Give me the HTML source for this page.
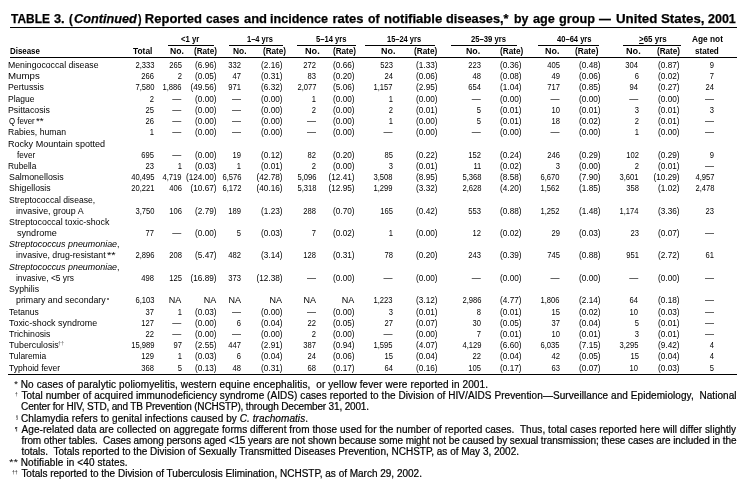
<!DOCTYPE html>
<html><head><meta charset="utf-8"><title>Table 3</title><style>
html,body{margin:0;padding:0;background:#fff;}
body{will-change:transform;width:756px;height:494px;position:relative;overflow:hidden;font-family:"Liberation Sans",sans-serif;color:#000;}
span{position:absolute;line-height:1;white-space:pre;}
.b{font-weight:bold;}
.it{font-style:italic;}
.ln{position:absolute;background:#000;}
i{font-style:italic;}
u{text-decoration:underline;}
</style></head><body>
<span class="b" style="top:12.10px;font-size:13px;left:10.57px;transform:scaleX(0.9181);transform-origin:0 0;-webkit-text-stroke:0.25px #000;">TABLE</span>
<span class="b" style="top:12.10px;font-size:13px;left:54.31px;transform:scaleX(0.9849);transform-origin:0 0;-webkit-text-stroke:0.25px #000;">3.</span>
<span class="b" style="top:12.10px;font-size:13px;left:68.93px;transform:scaleX(0.8729);transform-origin:0 0;-webkit-text-stroke:0.25px #000;">(</span>
<span class="b it" style="top:12.10px;font-size:13px;left:74.08px;transform:scaleX(0.9756);transform-origin:0 0;-webkit-text-stroke:0.25px #000;">Continued</span>
<span class="b" style="top:12.10px;font-size:13px;left:137.59px;transform:scaleX(0.8183);transform-origin:0 0;-webkit-text-stroke:0.25px #000;">)</span>
<span class="b" style="top:12.10px;font-size:13px;left:144.83px;-webkit-text-stroke:0.25px #000;">Reported</span>
<span class="b" style="top:12.10px;font-size:13px;left:206.03px;transform:scaleX(0.9256);transform-origin:0 0;-webkit-text-stroke:0.25px #000;">cases</span>
<span class="b" style="top:12.10px;font-size:13px;left:243.62px;transform:scaleX(0.9964);transform-origin:0 0;-webkit-text-stroke:0.25px #000;">and</span>
<span class="b" style="top:12.10px;font-size:13px;left:270.12px;transform:scaleX(0.9673);transform-origin:0 0;-webkit-text-stroke:0.25px #000;">incidence</span>
<span class="b" style="top:12.10px;font-size:13px;left:332.44px;-webkit-text-stroke:0.25px #000;">rates</span>
<span class="b" style="top:12.10px;font-size:13px;left:367.72px;transform:scaleX(0.9414);transform-origin:0 0;-webkit-text-stroke:0.25px #000;">of</span>
<span class="b" style="top:12.10px;font-size:13px;left:383.53px;transform:scaleX(1.0093);transform-origin:0 0;-webkit-text-stroke:0.25px #000;">notifiable</span>
<span class="b" style="top:12.10px;font-size:13px;left:446.28px;transform:scaleX(0.9833);transform-origin:0 0;-webkit-text-stroke:0.25px #000;">diseases,*</span>
<span class="b" style="top:12.10px;font-size:13px;left:513.59px;transform:scaleX(0.9475);transform-origin:0 0;-webkit-text-stroke:0.25px #000;">by</span>
<span class="b" style="top:12.10px;font-size:13px;left:532.63px;transform:scaleX(0.9731);transform-origin:0 0;-webkit-text-stroke:0.25px #000;">age</span>
<span class="b" style="top:12.10px;font-size:13px;left:558.68px;transform:scaleX(0.9759);transform-origin:0 0;-webkit-text-stroke:0.25px #000;">group</span>
<span class="b" style="top:12.10px;font-size:13px;left:598.90px;transform:scaleX(0.9154);transform-origin:0 0;-webkit-text-stroke:0.25px #000;">—</span>
<span class="b" style="top:12.10px;font-size:13px;left:615.80px;transform:scaleX(1.0231);transform-origin:0 0;-webkit-text-stroke:0.25px #000;">United</span>
<span class="b" style="top:12.10px;font-size:13px;left:661.01px;transform:scaleX(1.0219);transform-origin:0 0;-webkit-text-stroke:0.25px #000;">States,</span>
<span class="b" style="top:12.10px;font-size:13px;left:708.36px;transform:scaleX(0.9611);transform-origin:0 0;-webkit-text-stroke:0.25px #000;">2001</span>
<div class="ln" style="left:10px;top:27px;width:727px;height:1px"></div>
<span class="b" style="top:34.60px;font-size:9px;left:180.78px;transform:scaleX(0.8577);transform-origin:0 0;">&lt;1 yr</span>
<div class="ln" style="left:168px;top:45px;width:46px;height:1px"></div>
<span class="b" style="top:34.60px;font-size:9px;left:246.53px;transform:scaleX(0.8340);transform-origin:0 0;">1–4 yrs</span>
<div class="ln" style="left:229px;top:45px;width:54px;height:1px"></div>
<span class="b" style="top:34.60px;font-size:9px;left:316.46px;transform:scaleX(0.8477);transform-origin:0 0;">5–14 yrs</span>
<div class="ln" style="left:297px;top:45px;width:59px;height:1px"></div>
<span class="b" style="top:34.60px;font-size:9px;left:387.33px;transform:scaleX(0.8303);transform-origin:0 0;">15–24 yrs</span>
<div class="ln" style="left:365px;top:45px;width:70px;height:1px"></div>
<span class="b" style="top:34.60px;font-size:9px;left:471.43px;transform:scaleX(0.8549);transform-origin:0 0;">25–39 yrs</span>
<div class="ln" style="left:451px;top:45px;width:66px;height:1px"></div>
<span class="b" style="top:34.60px;font-size:9px;left:556.89px;transform:scaleX(0.8412);transform-origin:0 0;">40–64 yrs</span>
<div class="ln" style="left:538px;top:45px;width:61px;height:1px"></div>
<span class="b" style="top:34.60px;font-size:9px;left:639.47px;transform:scaleX(0.8844);transform-origin:0 0;"><u>&gt;</u>65 yrs</span>
<div class="ln" style="left:623px;top:45px;width:58px;height:1px"></div>
<span class="b" style="top:34.60px;font-size:9px;left:692.29px;transform:scaleX(0.9227);transform-origin:0 0;">Age not</span>
<span class="b" style="top:46.60px;font-size:9px;left:694.62px;transform:scaleX(0.8983);transform-origin:0 0;">stated</span>
<span class="b" style="top:46.60px;font-size:9px;left:10.17px;transform:scaleX(0.8786);transform-origin:0 0;">Disease</span>
<span class="b" style="top:46.60px;font-size:9px;left:133.41px;transform:scaleX(0.9305);transform-origin:0 0;">Total</span>
<span class="b" style="top:46.60px;font-size:9px;left:170.22px;transform:scaleX(0.9567);transform-origin:0 0;">No.</span>
<span class="b" style="top:46.60px;font-size:9px;left:233.24px;transform:scaleX(0.9341);transform-origin:0 0;">No.</span>
<span class="b" style="top:46.60px;font-size:9px;left:305.29px;transform:scaleX(1.0169);transform-origin:0 0;">No.</span>
<span class="b" style="top:46.60px;font-size:9px;left:380.80px;transform:scaleX(0.9944);transform-origin:0 0;">No.</span>
<span class="b" style="top:46.60px;font-size:9px;left:466.11px;transform:scaleX(0.9793);transform-origin:0 0;">No.</span>
<span class="b" style="top:46.60px;font-size:9px;left:544.80px;transform:scaleX(0.9944);transform-origin:0 0;">No.</span>
<span class="b" style="top:46.60px;font-size:9px;left:626.49px;transform:scaleX(1.0169);transform-origin:0 0;">No.</span>
<span class="b" style="top:46.60px;font-size:9px;left:194.19px;transform:scaleX(0.9022);transform-origin:0 0;">(Rate)</span>
<span class="b" style="top:46.60px;font-size:9px;left:263.29px;transform:scaleX(0.9022);transform-origin:0 0;">(Rate)</span>
<span class="b" style="top:46.60px;font-size:9px;left:332.79px;transform:scaleX(0.9022);transform-origin:0 0;">(Rate)</span>
<span class="b" style="top:46.60px;font-size:9px;left:414.39px;transform:scaleX(0.9144);transform-origin:0 0;">(Rate)</span>
<span class="b" style="top:46.60px;font-size:9px;left:499.59px;transform:scaleX(0.9144);transform-origin:0 0;">(Rate)</span>
<span class="b" style="top:46.60px;font-size:9px;left:575.29px;transform:scaleX(0.9185);transform-origin:0 0;">(Rate)</span>
<span class="b" style="top:46.60px;font-size:9px;left:657.19px;transform:scaleX(0.9022);transform-origin:0 0;">(Rate)</span>
<div class="ln" style="left:10px;top:57px;width:727px;height:1px"></div>
<span style="top:60.60px;font-size:9px;left:8.29px;transform:scaleX(0.9673);transform-origin:0 0;">Meningococcal disease</span>
<span style="top:60.60px;font-size:9px;right:601.66px;transform:scaleX(0.8450);transform-origin:100% 0;">2,333</span>
<span style="top:60.60px;font-size:9px;right:574.38px;transform:scaleX(0.8450);transform-origin:100% 0;">265</span>
<span style="top:60.60px;font-size:9px;right:539.19px;transform:scaleX(0.9130);transform-origin:100% 0;">(6.96)</span>
<span style="top:60.60px;font-size:9px;right:514.72px;transform:scaleX(0.8450);transform-origin:100% 0;">332</span>
<span style="top:60.60px;font-size:9px;right:473.59px;transform:scaleX(0.9130);transform-origin:100% 0;">(2.16)</span>
<span style="top:60.60px;font-size:9px;right:439.62px;transform:scaleX(0.8450);transform-origin:100% 0;">272</span>
<span style="top:60.60px;font-size:9px;right:401.19px;transform:scaleX(0.9130);transform-origin:100% 0;">(0.66)</span>
<span style="top:60.60px;font-size:9px;right:363.16px;transform:scaleX(0.8450);transform-origin:100% 0;">523</span>
<span style="top:60.60px;font-size:9px;right:318.99px;transform:scaleX(0.9130);transform-origin:100% 0;">(1.33)</span>
<span style="top:60.60px;font-size:9px;right:274.86px;transform:scaleX(0.8450);transform-origin:100% 0;">223</span>
<span style="top:60.60px;font-size:9px;right:234.19px;transform:scaleX(0.9130);transform-origin:100% 0;">(0.36)</span>
<span style="top:60.60px;font-size:9px;right:196.28px;transform:scaleX(0.8450);transform-origin:100% 0;">405</span>
<span style="top:60.60px;font-size:9px;right:155.69px;transform:scaleX(0.9130);transform-origin:100% 0;">(0.48)</span>
<span style="top:60.60px;font-size:9px;right:117.58px;transform:scaleX(0.8450);transform-origin:100% 0;">304</span>
<span style="top:60.60px;font-size:9px;right:76.29px;transform:scaleX(0.9130);transform-origin:100% 0;">(0.87)</span>
<span style="top:60.60px;font-size:9px;right:41.64px;transform:scaleX(0.8450);transform-origin:100% 0;">9</span>
<span style="top:71.60px;font-size:9px;left:8.21px;transform:scaleX(1.0759);transform-origin:0 0;">Mumps</span>
<span style="top:71.60px;font-size:9px;right:601.66px;transform:scaleX(0.8450);transform-origin:100% 0;">266</span>
<span style="top:71.60px;font-size:9px;right:574.32px;transform:scaleX(0.8450);transform-origin:100% 0;">2</span>
<span style="top:71.60px;font-size:9px;right:539.19px;transform:scaleX(0.9130);transform-origin:100% 0;">(0.05)</span>
<span style="top:71.60px;font-size:9px;right:514.72px;transform:scaleX(0.8450);transform-origin:100% 0;">47</span>
<span style="top:71.60px;font-size:9px;right:473.59px;transform:scaleX(0.9130);transform-origin:100% 0;">(0.31)</span>
<span style="top:71.60px;font-size:9px;right:439.66px;transform:scaleX(0.8450);transform-origin:100% 0;">83</span>
<span style="top:71.60px;font-size:9px;right:401.19px;transform:scaleX(0.9130);transform-origin:100% 0;">(0.20)</span>
<span style="top:71.60px;font-size:9px;right:363.28px;transform:scaleX(0.8450);transform-origin:100% 0;">24</span>
<span style="top:71.60px;font-size:9px;right:318.99px;transform:scaleX(0.9130);transform-origin:100% 0;">(0.06)</span>
<span style="top:71.60px;font-size:9px;right:274.87px;transform:scaleX(0.8450);transform-origin:100% 0;">48</span>
<span style="top:71.60px;font-size:9px;right:234.19px;transform:scaleX(0.9130);transform-origin:100% 0;">(0.08)</span>
<span style="top:71.60px;font-size:9px;right:196.24px;transform:scaleX(0.8450);transform-origin:100% 0;">49</span>
<span style="top:71.60px;font-size:9px;right:155.69px;transform:scaleX(0.9130);transform-origin:100% 0;">(0.06)</span>
<span style="top:71.60px;font-size:9px;right:117.46px;transform:scaleX(0.8450);transform-origin:100% 0;">6</span>
<span style="top:71.60px;font-size:9px;right:76.29px;transform:scaleX(0.9130);transform-origin:100% 0;">(0.02)</span>
<span style="top:71.60px;font-size:9px;right:41.62px;transform:scaleX(0.8450);transform-origin:100% 0;">7</span>
<span style="top:82.60px;font-size:9px;left:8.28px;transform:scaleX(0.9709);transform-origin:0 0;">Pertussis</span>
<span style="top:82.60px;font-size:9px;right:601.70px;transform:scaleX(0.8450);transform-origin:100% 0;">7,580</span>
<span style="top:82.60px;font-size:9px;right:574.36px;transform:scaleX(0.8450);transform-origin:100% 0;">1,886</span>
<span style="top:82.60px;font-size:9px;right:539.19px;transform:scaleX(0.9130);transform-origin:100% 0;">(49.56)</span>
<span style="top:82.60px;font-size:9px;right:514.72px;transform:scaleX(0.8450);transform-origin:100% 0;">971</span>
<span style="top:82.60px;font-size:9px;right:473.59px;transform:scaleX(0.9130);transform-origin:100% 0;">(6.32)</span>
<span style="top:82.60px;font-size:9px;right:439.62px;transform:scaleX(0.8450);transform-origin:100% 0;">2,077</span>
<span style="top:82.60px;font-size:9px;right:401.19px;transform:scaleX(0.9130);transform-origin:100% 0;">(5.06)</span>
<span style="top:82.60px;font-size:9px;right:363.12px;transform:scaleX(0.8450);transform-origin:100% 0;">1,157</span>
<span style="top:82.60px;font-size:9px;right:318.99px;transform:scaleX(0.9130);transform-origin:100% 0;">(2.95)</span>
<span style="top:82.60px;font-size:9px;right:274.98px;transform:scaleX(0.8450);transform-origin:100% 0;">654</span>
<span style="top:82.60px;font-size:9px;right:234.19px;transform:scaleX(0.9130);transform-origin:100% 0;">(1.04)</span>
<span style="top:82.60px;font-size:9px;right:196.22px;transform:scaleX(0.8450);transform-origin:100% 0;">717</span>
<span style="top:82.60px;font-size:9px;right:155.69px;transform:scaleX(0.9130);transform-origin:100% 0;">(0.85)</span>
<span style="top:82.60px;font-size:9px;right:117.58px;transform:scaleX(0.8450);transform-origin:100% 0;">94</span>
<span style="top:82.60px;font-size:9px;right:76.29px;transform:scaleX(0.9130);transform-origin:100% 0;">(0.27)</span>
<span style="top:82.60px;font-size:9px;right:41.78px;transform:scaleX(0.8450);transform-origin:100% 0;">24</span>
<span style="top:94.60px;font-size:9px;left:8.30px;transform:scaleX(0.9445);transform-origin:0 0;">Plague</span>
<span style="top:94.60px;font-size:9px;right:601.62px;transform:scaleX(0.8450);transform-origin:100% 0;">2</span>
<span style="top:94.60px;font-size:9px;right:574.70px;">—</span>
<span style="top:94.60px;font-size:9px;right:539.19px;transform:scaleX(0.9130);transform-origin:100% 0;">(0.00)</span>
<span style="top:94.60px;font-size:9px;right:515.10px;">—</span>
<span style="top:94.60px;font-size:9px;right:473.59px;transform:scaleX(0.9130);transform-origin:100% 0;">(0.00)</span>
<span style="top:94.60px;font-size:9px;right:439.63px;transform:scaleX(0.8450);transform-origin:100% 0;">1</span>
<span style="top:94.60px;font-size:9px;right:401.19px;transform:scaleX(0.9130);transform-origin:100% 0;">(0.00)</span>
<span style="top:94.60px;font-size:9px;right:363.13px;transform:scaleX(0.8450);transform-origin:100% 0;">1</span>
<span style="top:94.60px;font-size:9px;right:318.99px;transform:scaleX(0.9130);transform-origin:100% 0;">(0.00)</span>
<span style="top:94.60px;font-size:9px;right:275.20px;">—</span>
<span style="top:94.60px;font-size:9px;right:234.19px;transform:scaleX(0.9130);transform-origin:100% 0;">(0.00)</span>
<span style="top:94.60px;font-size:9px;right:196.60px;">—</span>
<span style="top:94.60px;font-size:9px;right:155.69px;transform:scaleX(0.9130);transform-origin:100% 0;">(0.00)</span>
<span style="top:94.60px;font-size:9px;right:117.80px;">—</span>
<span style="top:94.60px;font-size:9px;right:76.29px;transform:scaleX(0.9130);transform-origin:100% 0;">(0.00)</span>
<span style="top:94.60px;font-size:9px;right:42.00px;">—</span>
<span style="top:105.60px;font-size:9px;left:8.28px;transform:scaleX(0.9750);transform-origin:0 0;">Psittacosis</span>
<span style="top:105.60px;font-size:9px;right:601.68px;transform:scaleX(0.8450);transform-origin:100% 0;">25</span>
<span style="top:105.60px;font-size:9px;right:574.70px;">—</span>
<span style="top:105.60px;font-size:9px;right:539.19px;transform:scaleX(0.9130);transform-origin:100% 0;">(0.00)</span>
<span style="top:105.60px;font-size:9px;right:515.10px;">—</span>
<span style="top:105.60px;font-size:9px;right:473.59px;transform:scaleX(0.9130);transform-origin:100% 0;">(0.00)</span>
<span style="top:105.60px;font-size:9px;right:439.62px;transform:scaleX(0.8450);transform-origin:100% 0;">2</span>
<span style="top:105.60px;font-size:9px;right:401.19px;transform:scaleX(0.9130);transform-origin:100% 0;">(0.00)</span>
<span style="top:105.60px;font-size:9px;right:363.12px;transform:scaleX(0.8450);transform-origin:100% 0;">2</span>
<span style="top:105.60px;font-size:9px;right:318.99px;transform:scaleX(0.9130);transform-origin:100% 0;">(0.01)</span>
<span style="top:105.60px;font-size:9px;right:274.88px;transform:scaleX(0.8450);transform-origin:100% 0;">5</span>
<span style="top:105.60px;font-size:9px;right:234.19px;transform:scaleX(0.9130);transform-origin:100% 0;">(0.01)</span>
<span style="top:105.60px;font-size:9px;right:196.30px;transform:scaleX(0.8450);transform-origin:100% 0;">10</span>
<span style="top:105.60px;font-size:9px;right:155.69px;transform:scaleX(0.9130);transform-origin:100% 0;">(0.01)</span>
<span style="top:105.60px;font-size:9px;right:117.46px;transform:scaleX(0.8450);transform-origin:100% 0;">3</span>
<span style="top:105.60px;font-size:9px;right:76.29px;transform:scaleX(0.9130);transform-origin:100% 0;">(0.01)</span>
<span style="top:105.60px;font-size:9px;right:41.66px;transform:scaleX(0.8450);transform-origin:100% 0;">3</span>
<span style="top:116.60px;font-size:9px;left:8.63px;transform:scaleX(0.8706);transform-origin:0 0;">Q fever</span>
<span style="top:116.39px;font-size:9.5px;left:35.94px;transform:scaleX(1.0301);transform-origin:0 0;">**</span>
<span style="top:116.60px;font-size:9px;right:601.66px;transform:scaleX(0.8450);transform-origin:100% 0;">26</span>
<span style="top:116.60px;font-size:9px;right:574.70px;">—</span>
<span style="top:116.60px;font-size:9px;right:539.19px;transform:scaleX(0.9130);transform-origin:100% 0;">(0.00)</span>
<span style="top:116.60px;font-size:9px;right:515.10px;">—</span>
<span style="top:116.60px;font-size:9px;right:473.59px;transform:scaleX(0.9130);transform-origin:100% 0;">(0.00)</span>
<span style="top:116.60px;font-size:9px;right:440.00px;">—</span>
<span style="top:116.60px;font-size:9px;right:401.19px;transform:scaleX(0.9130);transform-origin:100% 0;">(0.00)</span>
<span style="top:116.60px;font-size:9px;right:363.13px;transform:scaleX(0.8450);transform-origin:100% 0;">1</span>
<span style="top:116.60px;font-size:9px;right:318.99px;transform:scaleX(0.9130);transform-origin:100% 0;">(0.00)</span>
<span style="top:116.60px;font-size:9px;right:274.88px;transform:scaleX(0.8450);transform-origin:100% 0;">5</span>
<span style="top:116.60px;font-size:9px;right:234.19px;transform:scaleX(0.9130);transform-origin:100% 0;">(0.01)</span>
<span style="top:116.60px;font-size:9px;right:196.27px;transform:scaleX(0.8450);transform-origin:100% 0;">18</span>
<span style="top:116.60px;font-size:9px;right:155.69px;transform:scaleX(0.9130);transform-origin:100% 0;">(0.02)</span>
<span style="top:116.60px;font-size:9px;right:117.42px;transform:scaleX(0.8450);transform-origin:100% 0;">2</span>
<span style="top:116.60px;font-size:9px;right:76.29px;transform:scaleX(0.9130);transform-origin:100% 0;">(0.01)</span>
<span style="top:116.60px;font-size:9px;right:42.00px;">—</span>
<span style="top:127.60px;font-size:9px;left:8.29px;transform:scaleX(0.9593);transform-origin:0 0;">Rabies, human</span>
<span style="top:127.60px;font-size:9px;right:601.63px;transform:scaleX(0.8450);transform-origin:100% 0;">1</span>
<span style="top:127.60px;font-size:9px;right:574.70px;">—</span>
<span style="top:127.60px;font-size:9px;right:539.19px;transform:scaleX(0.9130);transform-origin:100% 0;">(0.00)</span>
<span style="top:127.60px;font-size:9px;right:515.10px;">—</span>
<span style="top:127.60px;font-size:9px;right:473.59px;transform:scaleX(0.9130);transform-origin:100% 0;">(0.00)</span>
<span style="top:127.60px;font-size:9px;right:440.00px;">—</span>
<span style="top:127.60px;font-size:9px;right:401.19px;transform:scaleX(0.9130);transform-origin:100% 0;">(0.00)</span>
<span style="top:127.60px;font-size:9px;right:363.50px;">—</span>
<span style="top:127.60px;font-size:9px;right:318.99px;transform:scaleX(0.9130);transform-origin:100% 0;">(0.00)</span>
<span style="top:127.60px;font-size:9px;right:275.20px;">—</span>
<span style="top:127.60px;font-size:9px;right:234.19px;transform:scaleX(0.9130);transform-origin:100% 0;">(0.00)</span>
<span style="top:127.60px;font-size:9px;right:196.60px;">—</span>
<span style="top:127.60px;font-size:9px;right:155.69px;transform:scaleX(0.9130);transform-origin:100% 0;">(0.00)</span>
<span style="top:127.60px;font-size:9px;right:117.43px;transform:scaleX(0.8450);transform-origin:100% 0;">1</span>
<span style="top:127.60px;font-size:9px;right:76.29px;transform:scaleX(0.9130);transform-origin:100% 0;">(0.00)</span>
<span style="top:127.60px;font-size:9px;right:42.00px;">—</span>
<span style="top:139.60px;font-size:9px;left:8.26px;transform:scaleX(1.0049);transform-origin:0 0;">Rocky Mountain spotted</span>
<span style="top:150.60px;font-size:9px;left:16.79px;transform:scaleX(0.9069);transform-origin:0 0;">fever</span>
<span style="top:150.60px;font-size:9px;right:601.68px;transform:scaleX(0.8450);transform-origin:100% 0;">695</span>
<span style="top:150.60px;font-size:9px;right:574.70px;">—</span>
<span style="top:150.60px;font-size:9px;right:539.19px;transform:scaleX(0.9130);transform-origin:100% 0;">(0.00)</span>
<span style="top:150.60px;font-size:9px;right:514.74px;transform:scaleX(0.8450);transform-origin:100% 0;">19</span>
<span style="top:150.60px;font-size:9px;right:473.59px;transform:scaleX(0.9130);transform-origin:100% 0;">(0.12)</span>
<span style="top:150.60px;font-size:9px;right:439.62px;transform:scaleX(0.8450);transform-origin:100% 0;">82</span>
<span style="top:150.60px;font-size:9px;right:401.19px;transform:scaleX(0.9130);transform-origin:100% 0;">(0.20)</span>
<span style="top:150.60px;font-size:9px;right:363.18px;transform:scaleX(0.8450);transform-origin:100% 0;">85</span>
<span style="top:150.60px;font-size:9px;right:318.99px;transform:scaleX(0.9130);transform-origin:100% 0;">(0.22)</span>
<span style="top:150.60px;font-size:9px;right:274.82px;transform:scaleX(0.8450);transform-origin:100% 0;">152</span>
<span style="top:150.60px;font-size:9px;right:234.19px;transform:scaleX(0.9130);transform-origin:100% 0;">(0.24)</span>
<span style="top:150.60px;font-size:9px;right:196.26px;transform:scaleX(0.8450);transform-origin:100% 0;">246</span>
<span style="top:150.60px;font-size:9px;right:155.69px;transform:scaleX(0.9130);transform-origin:100% 0;">(0.29)</span>
<span style="top:150.60px;font-size:9px;right:117.42px;transform:scaleX(0.8450);transform-origin:100% 0;">102</span>
<span style="top:150.60px;font-size:9px;right:76.29px;transform:scaleX(0.9130);transform-origin:100% 0;">(0.29)</span>
<span style="top:150.60px;font-size:9px;right:41.64px;transform:scaleX(0.8450);transform-origin:100% 0;">9</span>
<span style="top:161.60px;font-size:9px;left:8.31px;transform:scaleX(0.9301);transform-origin:0 0;">Rubella</span>
<span style="top:161.60px;font-size:9px;right:601.66px;transform:scaleX(0.8450);transform-origin:100% 0;">23</span>
<span style="top:161.60px;font-size:9px;right:574.33px;transform:scaleX(0.8450);transform-origin:100% 0;">1</span>
<span style="top:161.60px;font-size:9px;right:539.19px;transform:scaleX(0.9130);transform-origin:100% 0;">(0.03)</span>
<span style="top:161.60px;font-size:9px;right:514.73px;transform:scaleX(0.8450);transform-origin:100% 0;">1</span>
<span style="top:161.60px;font-size:9px;right:473.59px;transform:scaleX(0.9130);transform-origin:100% 0;">(0.01)</span>
<span style="top:161.60px;font-size:9px;right:439.62px;transform:scaleX(0.8450);transform-origin:100% 0;">2</span>
<span style="top:161.60px;font-size:9px;right:401.19px;transform:scaleX(0.9130);transform-origin:100% 0;">(0.00)</span>
<span style="top:161.60px;font-size:9px;right:363.16px;transform:scaleX(0.8450);transform-origin:100% 0;">3</span>
<span style="top:161.60px;font-size:9px;right:318.99px;transform:scaleX(0.9130);transform-origin:100% 0;">(0.01)</span>
<span style="top:161.60px;font-size:9px;right:274.83px;transform:scaleX(0.8450);transform-origin:100% 0;">11</span>
<span style="top:161.60px;font-size:9px;right:234.19px;transform:scaleX(0.9130);transform-origin:100% 0;">(0.02)</span>
<span style="top:161.60px;font-size:9px;right:196.26px;transform:scaleX(0.8450);transform-origin:100% 0;">3</span>
<span style="top:161.60px;font-size:9px;right:155.69px;transform:scaleX(0.9130);transform-origin:100% 0;">(0.00)</span>
<span style="top:161.60px;font-size:9px;right:117.42px;transform:scaleX(0.8450);transform-origin:100% 0;">2</span>
<span style="top:161.60px;font-size:9px;right:76.29px;transform:scaleX(0.9130);transform-origin:100% 0;">(0.01)</span>
<span style="top:161.60px;font-size:9px;right:42.00px;">—</span>
<span style="top:172.60px;font-size:9px;left:8.60px;transform:scaleX(0.9837);transform-origin:0 0;">Salmonellosis</span>
<span style="top:172.60px;font-size:9px;right:601.68px;transform:scaleX(0.8450);transform-origin:100% 0;">40,495</span>
<span style="top:172.60px;font-size:9px;right:574.34px;transform:scaleX(0.8450);transform-origin:100% 0;">4,719</span>
<span style="top:172.60px;font-size:9px;right:539.19px;transform:scaleX(0.9130);transform-origin:100% 0;">(124.00)</span>
<span style="top:172.60px;font-size:9px;right:514.76px;transform:scaleX(0.8450);transform-origin:100% 0;">6,576</span>
<span style="top:172.60px;font-size:9px;right:473.59px;transform:scaleX(0.9130);transform-origin:100% 0;">(42.78)</span>
<span style="top:172.60px;font-size:9px;right:439.66px;transform:scaleX(0.8450);transform-origin:100% 0;">5,096</span>
<span style="top:172.60px;font-size:9px;right:401.19px;transform:scaleX(0.9130);transform-origin:100% 0;">(12.41)</span>
<span style="top:172.60px;font-size:9px;right:363.17px;transform:scaleX(0.8450);transform-origin:100% 0;">3,508</span>
<span style="top:172.60px;font-size:9px;right:318.99px;transform:scaleX(0.9130);transform-origin:100% 0;">(8.95)</span>
<span style="top:172.60px;font-size:9px;right:274.87px;transform:scaleX(0.8450);transform-origin:100% 0;">5,368</span>
<span style="top:172.60px;font-size:9px;right:234.19px;transform:scaleX(0.9130);transform-origin:100% 0;">(8.58)</span>
<span style="top:172.60px;font-size:9px;right:196.30px;transform:scaleX(0.8450);transform-origin:100% 0;">6,670</span>
<span style="top:172.60px;font-size:9px;right:155.69px;transform:scaleX(0.9130);transform-origin:100% 0;">(7.90)</span>
<span style="top:172.60px;font-size:9px;right:117.42px;transform:scaleX(0.8450);transform-origin:100% 0;">3,601</span>
<span style="top:172.60px;font-size:9px;right:76.29px;transform:scaleX(0.9130);transform-origin:100% 0;">(10.29)</span>
<span style="top:172.60px;font-size:9px;right:41.62px;transform:scaleX(0.8450);transform-origin:100% 0;">4,957</span>
<span style="top:183.60px;font-size:9px;left:8.61px;transform:scaleX(0.9671);transform-origin:0 0;">Shigellosis</span>
<span style="top:183.60px;font-size:9px;right:601.62px;transform:scaleX(0.8450);transform-origin:100% 0;">20,221</span>
<span style="top:183.60px;font-size:9px;right:574.36px;transform:scaleX(0.8450);transform-origin:100% 0;">406</span>
<span style="top:183.60px;font-size:9px;right:539.19px;transform:scaleX(0.9130);transform-origin:100% 0;">(10.67)</span>
<span style="top:183.60px;font-size:9px;right:514.72px;transform:scaleX(0.8450);transform-origin:100% 0;">6,172</span>
<span style="top:183.60px;font-size:9px;right:473.59px;transform:scaleX(0.9130);transform-origin:100% 0;">(40.16)</span>
<span style="top:183.60px;font-size:9px;right:439.67px;transform:scaleX(0.8450);transform-origin:100% 0;">5,318</span>
<span style="top:183.60px;font-size:9px;right:401.19px;transform:scaleX(0.9130);transform-origin:100% 0;">(12.95)</span>
<span style="top:183.60px;font-size:9px;right:363.14px;transform:scaleX(0.8450);transform-origin:100% 0;">1,299</span>
<span style="top:183.60px;font-size:9px;right:318.99px;transform:scaleX(0.9130);transform-origin:100% 0;">(3.32)</span>
<span style="top:183.60px;font-size:9px;right:274.87px;transform:scaleX(0.8450);transform-origin:100% 0;">2,628</span>
<span style="top:183.60px;font-size:9px;right:234.19px;transform:scaleX(0.9130);transform-origin:100% 0;">(4.20)</span>
<span style="top:183.60px;font-size:9px;right:196.22px;transform:scaleX(0.8450);transform-origin:100% 0;">1,562</span>
<span style="top:183.60px;font-size:9px;right:155.69px;transform:scaleX(0.9130);transform-origin:100% 0;">(1.85)</span>
<span style="top:183.60px;font-size:9px;right:117.47px;transform:scaleX(0.8450);transform-origin:100% 0;">358</span>
<span style="top:183.60px;font-size:9px;right:76.29px;transform:scaleX(0.9130);transform-origin:100% 0;">(1.02)</span>
<span style="top:183.60px;font-size:9px;right:41.67px;transform:scaleX(0.8450);transform-origin:100% 0;">2,478</span>
<span style="top:195.60px;font-size:9px;left:8.62px;transform:scaleX(0.9504);transform-origin:0 0;">Streptococcal disease,</span>
<span style="top:206.60px;font-size:9px;left:16.31px;transform:scaleX(0.9864);transform-origin:0 0;">invasive, group A</span>
<span style="top:206.60px;font-size:9px;right:601.70px;transform:scaleX(0.8450);transform-origin:100% 0;">3,750</span>
<span style="top:206.60px;font-size:9px;right:574.36px;transform:scaleX(0.8450);transform-origin:100% 0;">106</span>
<span style="top:206.60px;font-size:9px;right:539.19px;transform:scaleX(0.9130);transform-origin:100% 0;">(2.79)</span>
<span style="top:206.60px;font-size:9px;right:514.74px;transform:scaleX(0.8450);transform-origin:100% 0;">189</span>
<span style="top:206.60px;font-size:9px;right:473.59px;transform:scaleX(0.9130);transform-origin:100% 0;">(1.23)</span>
<span style="top:206.60px;font-size:9px;right:439.67px;transform:scaleX(0.8450);transform-origin:100% 0;">288</span>
<span style="top:206.60px;font-size:9px;right:401.19px;transform:scaleX(0.9130);transform-origin:100% 0;">(0.70)</span>
<span style="top:206.60px;font-size:9px;right:363.18px;transform:scaleX(0.8450);transform-origin:100% 0;">165</span>
<span style="top:206.60px;font-size:9px;right:318.99px;transform:scaleX(0.9130);transform-origin:100% 0;">(0.42)</span>
<span style="top:206.60px;font-size:9px;right:274.86px;transform:scaleX(0.8450);transform-origin:100% 0;">553</span>
<span style="top:206.60px;font-size:9px;right:234.19px;transform:scaleX(0.9130);transform-origin:100% 0;">(0.88)</span>
<span style="top:206.60px;font-size:9px;right:196.22px;transform:scaleX(0.8450);transform-origin:100% 0;">1,252</span>
<span style="top:206.60px;font-size:9px;right:155.69px;transform:scaleX(0.9130);transform-origin:100% 0;">(1.48)</span>
<span style="top:206.60px;font-size:9px;right:117.58px;transform:scaleX(0.8450);transform-origin:100% 0;">1,174</span>
<span style="top:206.60px;font-size:9px;right:76.29px;transform:scaleX(0.9130);transform-origin:100% 0;">(3.36)</span>
<span style="top:206.60px;font-size:9px;right:41.66px;transform:scaleX(0.8450);transform-origin:100% 0;">23</span>
<span style="top:217.60px;font-size:9px;left:8.60px;transform:scaleX(0.9838);transform-origin:0 0;">Streptococcal toxic-shock</span>
<span style="top:228.60px;font-size:9px;left:16.65px;transform:scaleX(1.0085);transform-origin:0 0;">syndrome</span>
<span style="top:228.60px;font-size:9px;right:601.62px;transform:scaleX(0.8450);transform-origin:100% 0;">77</span>
<span style="top:228.60px;font-size:9px;right:574.70px;">—</span>
<span style="top:228.60px;font-size:9px;right:539.19px;transform:scaleX(0.9130);transform-origin:100% 0;">(0.00)</span>
<span style="top:228.60px;font-size:9px;right:514.78px;transform:scaleX(0.8450);transform-origin:100% 0;">5</span>
<span style="top:228.60px;font-size:9px;right:473.59px;transform:scaleX(0.9130);transform-origin:100% 0;">(0.03)</span>
<span style="top:228.60px;font-size:9px;right:439.62px;transform:scaleX(0.8450);transform-origin:100% 0;">7</span>
<span style="top:228.60px;font-size:9px;right:401.19px;transform:scaleX(0.9130);transform-origin:100% 0;">(0.02)</span>
<span style="top:228.60px;font-size:9px;right:363.13px;transform:scaleX(0.8450);transform-origin:100% 0;">1</span>
<span style="top:228.60px;font-size:9px;right:318.99px;transform:scaleX(0.9130);transform-origin:100% 0;">(0.00)</span>
<span style="top:228.60px;font-size:9px;right:274.82px;transform:scaleX(0.8450);transform-origin:100% 0;">12</span>
<span style="top:228.60px;font-size:9px;right:234.19px;transform:scaleX(0.9130);transform-origin:100% 0;">(0.02)</span>
<span style="top:228.60px;font-size:9px;right:196.24px;transform:scaleX(0.8450);transform-origin:100% 0;">29</span>
<span style="top:228.60px;font-size:9px;right:155.69px;transform:scaleX(0.9130);transform-origin:100% 0;">(0.03)</span>
<span style="top:228.60px;font-size:9px;right:117.46px;transform:scaleX(0.8450);transform-origin:100% 0;">23</span>
<span style="top:228.60px;font-size:9px;right:76.29px;transform:scaleX(0.9130);transform-origin:100% 0;">(0.07)</span>
<span style="top:228.60px;font-size:9px;right:42.00px;">—</span>
<span style="top:239.60px;font-size:9px;left:8.75px;transform:scaleX(0.9909);transform-origin:0 0;"><i>Streptococcus pneumoniae</i>,</span>
<span style="top:250.60px;font-size:9px;left:16.32px;transform:scaleX(0.9687);transform-origin:0 0;">invasive, drug-resistant</span>
<span style="top:250.39px;font-size:9.5px;left:106.52px;transform:scaleX(1.1570);transform-origin:0 0;">**</span>
<span style="top:250.60px;font-size:9px;right:601.66px;transform:scaleX(0.8450);transform-origin:100% 0;">2,896</span>
<span style="top:250.60px;font-size:9px;right:574.37px;transform:scaleX(0.8450);transform-origin:100% 0;">208</span>
<span style="top:250.60px;font-size:9px;right:539.19px;transform:scaleX(0.9130);transform-origin:100% 0;">(5.47)</span>
<span style="top:250.60px;font-size:9px;right:514.72px;transform:scaleX(0.8450);transform-origin:100% 0;">482</span>
<span style="top:250.60px;font-size:9px;right:473.59px;transform:scaleX(0.9130);transform-origin:100% 0;">(3.14)</span>
<span style="top:250.60px;font-size:9px;right:439.67px;transform:scaleX(0.8450);transform-origin:100% 0;">128</span>
<span style="top:250.60px;font-size:9px;right:401.19px;transform:scaleX(0.9130);transform-origin:100% 0;">(0.31)</span>
<span style="top:250.60px;font-size:9px;right:363.17px;transform:scaleX(0.8450);transform-origin:100% 0;">78</span>
<span style="top:250.60px;font-size:9px;right:318.99px;transform:scaleX(0.9130);transform-origin:100% 0;">(0.20)</span>
<span style="top:250.60px;font-size:9px;right:274.86px;transform:scaleX(0.8450);transform-origin:100% 0;">243</span>
<span style="top:250.60px;font-size:9px;right:234.19px;transform:scaleX(0.9130);transform-origin:100% 0;">(0.39)</span>
<span style="top:250.60px;font-size:9px;right:196.28px;transform:scaleX(0.8450);transform-origin:100% 0;">745</span>
<span style="top:250.60px;font-size:9px;right:155.69px;transform:scaleX(0.9130);transform-origin:100% 0;">(0.88)</span>
<span style="top:250.60px;font-size:9px;right:117.42px;transform:scaleX(0.8450);transform-origin:100% 0;">951</span>
<span style="top:250.60px;font-size:9px;right:76.29px;transform:scaleX(0.9130);transform-origin:100% 0;">(2.72)</span>
<span style="top:250.60px;font-size:9px;right:41.62px;transform:scaleX(0.8450);transform-origin:100% 0;">61</span>
<span style="top:262.60px;font-size:9px;left:8.75px;transform:scaleX(0.9909);transform-origin:0 0;"><i>Streptococcus pneumoniae</i>,</span>
<span style="top:273.60px;font-size:9px;left:16.34px;transform:scaleX(0.9308);transform-origin:0 0;">invasive, &lt;5 yrs</span>
<span style="top:273.60px;font-size:9px;right:601.67px;transform:scaleX(0.8450);transform-origin:100% 0;">498</span>
<span style="top:273.60px;font-size:9px;right:574.38px;transform:scaleX(0.8450);transform-origin:100% 0;">125</span>
<span style="top:273.60px;font-size:9px;right:539.19px;transform:scaleX(0.9130);transform-origin:100% 0;">(16.89)</span>
<span style="top:273.60px;font-size:9px;right:514.76px;transform:scaleX(0.8450);transform-origin:100% 0;">373</span>
<span style="top:273.60px;font-size:9px;right:473.59px;transform:scaleX(0.9130);transform-origin:100% 0;">(12.38)</span>
<span style="top:273.60px;font-size:9px;right:440.00px;">—</span>
<span style="top:273.60px;font-size:9px;right:401.19px;transform:scaleX(0.9130);transform-origin:100% 0;">(0.00)</span>
<span style="top:273.60px;font-size:9px;right:363.50px;">—</span>
<span style="top:273.60px;font-size:9px;right:318.99px;transform:scaleX(0.9130);transform-origin:100% 0;">(0.00)</span>
<span style="top:273.60px;font-size:9px;right:275.20px;">—</span>
<span style="top:273.60px;font-size:9px;right:234.19px;transform:scaleX(0.9130);transform-origin:100% 0;">(0.00)</span>
<span style="top:273.60px;font-size:9px;right:196.60px;">—</span>
<span style="top:273.60px;font-size:9px;right:155.69px;transform:scaleX(0.9130);transform-origin:100% 0;">(0.00)</span>
<span style="top:273.60px;font-size:9px;right:117.80px;">—</span>
<span style="top:273.60px;font-size:9px;right:76.29px;transform:scaleX(0.9130);transform-origin:100% 0;">(0.00)</span>
<span style="top:273.60px;font-size:9px;right:42.00px;">—</span>
<span style="top:284.60px;font-size:9px;left:8.61px;transform:scaleX(0.9675);transform-origin:0 0;">Syphilis</span>
<span style="top:295.60px;font-size:9px;left:16.34px;transform:scaleX(0.9797);transform-origin:0 0;">primary and secondary</span>
<div class="ln" style="left:107.0px;top:298.0px;width:2px;height:2px;background:#777"></div>
<span style="top:295.60px;font-size:9px;right:601.66px;transform:scaleX(0.8450);transform-origin:100% 0;">6,103</span>
<span style="top:295.60px;font-size:9px;right:574.68px;">NA</span>
<span style="top:295.60px;font-size:9px;right:539.68px;">NA</span>
<span style="top:295.60px;font-size:9px;right:515.08px;">NA</span>
<span style="top:295.60px;font-size:9px;right:474.08px;">NA</span>
<span style="top:295.60px;font-size:9px;right:439.98px;">NA</span>
<span style="top:295.60px;font-size:9px;right:401.68px;">NA</span>
<span style="top:295.60px;font-size:9px;right:363.16px;transform:scaleX(0.8450);transform-origin:100% 0;">1,223</span>
<span style="top:295.60px;font-size:9px;right:318.99px;transform:scaleX(0.9130);transform-origin:100% 0;">(3.12)</span>
<span style="top:295.60px;font-size:9px;right:274.86px;transform:scaleX(0.8450);transform-origin:100% 0;">2,986</span>
<span style="top:295.60px;font-size:9px;right:234.19px;transform:scaleX(0.9130);transform-origin:100% 0;">(4.77)</span>
<span style="top:295.60px;font-size:9px;right:196.26px;transform:scaleX(0.8450);transform-origin:100% 0;">1,806</span>
<span style="top:295.60px;font-size:9px;right:155.69px;transform:scaleX(0.9130);transform-origin:100% 0;">(2.14)</span>
<span style="top:295.60px;font-size:9px;right:117.58px;transform:scaleX(0.8450);transform-origin:100% 0;">64</span>
<span style="top:295.60px;font-size:9px;right:76.29px;transform:scaleX(0.9130);transform-origin:100% 0;">(0.18)</span>
<span style="top:295.60px;font-size:9px;right:42.00px;">—</span>
<span style="top:307.60px;font-size:9px;left:8.81px;transform:scaleX(0.9453);transform-origin:0 0;">Tetanus</span>
<span style="top:307.60px;font-size:9px;right:601.62px;transform:scaleX(0.8450);transform-origin:100% 0;">37</span>
<span style="top:307.60px;font-size:9px;right:574.33px;transform:scaleX(0.8450);transform-origin:100% 0;">1</span>
<span style="top:307.60px;font-size:9px;right:539.19px;transform:scaleX(0.9130);transform-origin:100% 0;">(0.03)</span>
<span style="top:307.60px;font-size:9px;right:515.10px;">—</span>
<span style="top:307.60px;font-size:9px;right:473.59px;transform:scaleX(0.9130);transform-origin:100% 0;">(0.00)</span>
<span style="top:307.60px;font-size:9px;right:440.00px;">—</span>
<span style="top:307.60px;font-size:9px;right:401.19px;transform:scaleX(0.9130);transform-origin:100% 0;">(0.00)</span>
<span style="top:307.60px;font-size:9px;right:363.16px;transform:scaleX(0.8450);transform-origin:100% 0;">3</span>
<span style="top:307.60px;font-size:9px;right:318.99px;transform:scaleX(0.9130);transform-origin:100% 0;">(0.01)</span>
<span style="top:307.60px;font-size:9px;right:274.87px;transform:scaleX(0.8450);transform-origin:100% 0;">8</span>
<span style="top:307.60px;font-size:9px;right:234.19px;transform:scaleX(0.9130);transform-origin:100% 0;">(0.01)</span>
<span style="top:307.60px;font-size:9px;right:196.28px;transform:scaleX(0.8450);transform-origin:100% 0;">15</span>
<span style="top:307.60px;font-size:9px;right:155.69px;transform:scaleX(0.9130);transform-origin:100% 0;">(0.02)</span>
<span style="top:307.60px;font-size:9px;right:117.50px;transform:scaleX(0.8450);transform-origin:100% 0;">10</span>
<span style="top:307.60px;font-size:9px;right:76.29px;transform:scaleX(0.9130);transform-origin:100% 0;">(0.03)</span>
<span style="top:307.60px;font-size:9px;right:42.00px;">—</span>
<span style="top:318.60px;font-size:9px;left:8.80px;transform:scaleX(0.9906);transform-origin:0 0;">Toxic-shock syndrome</span>
<span style="top:318.60px;font-size:9px;right:601.62px;transform:scaleX(0.8450);transform-origin:100% 0;">127</span>
<span style="top:318.60px;font-size:9px;right:574.70px;">—</span>
<span style="top:318.60px;font-size:9px;right:539.19px;transform:scaleX(0.9130);transform-origin:100% 0;">(0.00)</span>
<span style="top:318.60px;font-size:9px;right:514.76px;transform:scaleX(0.8450);transform-origin:100% 0;">6</span>
<span style="top:318.60px;font-size:9px;right:473.59px;transform:scaleX(0.9130);transform-origin:100% 0;">(0.04)</span>
<span style="top:318.60px;font-size:9px;right:439.62px;transform:scaleX(0.8450);transform-origin:100% 0;">22</span>
<span style="top:318.60px;font-size:9px;right:401.19px;transform:scaleX(0.9130);transform-origin:100% 0;">(0.05)</span>
<span style="top:318.60px;font-size:9px;right:363.12px;transform:scaleX(0.8450);transform-origin:100% 0;">27</span>
<span style="top:318.60px;font-size:9px;right:318.99px;transform:scaleX(0.9130);transform-origin:100% 0;">(0.07)</span>
<span style="top:318.60px;font-size:9px;right:274.90px;transform:scaleX(0.8450);transform-origin:100% 0;">30</span>
<span style="top:318.60px;font-size:9px;right:234.19px;transform:scaleX(0.9130);transform-origin:100% 0;">(0.05)</span>
<span style="top:318.60px;font-size:9px;right:196.22px;transform:scaleX(0.8450);transform-origin:100% 0;">37</span>
<span style="top:318.60px;font-size:9px;right:155.69px;transform:scaleX(0.9130);transform-origin:100% 0;">(0.04)</span>
<span style="top:318.60px;font-size:9px;right:117.48px;transform:scaleX(0.8450);transform-origin:100% 0;">5</span>
<span style="top:318.60px;font-size:9px;right:76.29px;transform:scaleX(0.9130);transform-origin:100% 0;">(0.01)</span>
<span style="top:318.60px;font-size:9px;right:42.00px;">—</span>
<span style="top:329.60px;font-size:9px;left:8.81px;transform:scaleX(0.9702);transform-origin:0 0;">Trichinosis</span>
<span style="top:329.60px;font-size:9px;right:601.62px;transform:scaleX(0.8450);transform-origin:100% 0;">22</span>
<span style="top:329.60px;font-size:9px;right:574.70px;">—</span>
<span style="top:329.60px;font-size:9px;right:539.19px;transform:scaleX(0.9130);transform-origin:100% 0;">(0.00)</span>
<span style="top:329.60px;font-size:9px;right:515.10px;">—</span>
<span style="top:329.60px;font-size:9px;right:473.59px;transform:scaleX(0.9130);transform-origin:100% 0;">(0.00)</span>
<span style="top:329.60px;font-size:9px;right:439.62px;transform:scaleX(0.8450);transform-origin:100% 0;">2</span>
<span style="top:329.60px;font-size:9px;right:401.19px;transform:scaleX(0.9130);transform-origin:100% 0;">(0.00)</span>
<span style="top:329.60px;font-size:9px;right:363.50px;">—</span>
<span style="top:329.60px;font-size:9px;right:318.99px;transform:scaleX(0.9130);transform-origin:100% 0;">(0.00)</span>
<span style="top:329.60px;font-size:9px;right:274.82px;transform:scaleX(0.8450);transform-origin:100% 0;">7</span>
<span style="top:329.60px;font-size:9px;right:234.19px;transform:scaleX(0.9130);transform-origin:100% 0;">(0.01)</span>
<span style="top:329.60px;font-size:9px;right:196.30px;transform:scaleX(0.8450);transform-origin:100% 0;">10</span>
<span style="top:329.60px;font-size:9px;right:155.69px;transform:scaleX(0.9130);transform-origin:100% 0;">(0.01)</span>
<span style="top:329.60px;font-size:9px;right:117.46px;transform:scaleX(0.8450);transform-origin:100% 0;">3</span>
<span style="top:329.60px;font-size:9px;right:76.29px;transform:scaleX(0.9130);transform-origin:100% 0;">(0.01)</span>
<span style="top:329.60px;font-size:9px;right:42.00px;">—</span>
<span style="top:340.60px;font-size:9px;left:8.81px;transform:scaleX(0.9807);transform-origin:0 0;">Tuberculosis</span>
<span style="top:341.23px;font-size:5px;left:58.14px;transform:scaleX(1.0838);transform-origin:0 0;color:#555;">††</span>
<span style="top:340.60px;font-size:9px;right:601.64px;transform:scaleX(0.8450);transform-origin:100% 0;">15,989</span>
<span style="top:340.60px;font-size:9px;right:574.32px;transform:scaleX(0.8450);transform-origin:100% 0;">97</span>
<span style="top:340.60px;font-size:9px;right:539.19px;transform:scaleX(0.9130);transform-origin:100% 0;">(2.55)</span>
<span style="top:340.60px;font-size:9px;right:514.72px;transform:scaleX(0.8450);transform-origin:100% 0;">447</span>
<span style="top:340.60px;font-size:9px;right:473.59px;transform:scaleX(0.9130);transform-origin:100% 0;">(2.91)</span>
<span style="top:340.60px;font-size:9px;right:439.62px;transform:scaleX(0.8450);transform-origin:100% 0;">387</span>
<span style="top:340.60px;font-size:9px;right:401.19px;transform:scaleX(0.9130);transform-origin:100% 0;">(0.94)</span>
<span style="top:340.60px;font-size:9px;right:363.18px;transform:scaleX(0.8450);transform-origin:100% 0;">1,595</span>
<span style="top:340.60px;font-size:9px;right:318.99px;transform:scaleX(0.9130);transform-origin:100% 0;">(4.07)</span>
<span style="top:340.60px;font-size:9px;right:274.84px;transform:scaleX(0.8450);transform-origin:100% 0;">4,129</span>
<span style="top:340.60px;font-size:9px;right:234.19px;transform:scaleX(0.9130);transform-origin:100% 0;">(6.60)</span>
<span style="top:340.60px;font-size:9px;right:196.28px;transform:scaleX(0.8450);transform-origin:100% 0;">6,035</span>
<span style="top:340.60px;font-size:9px;right:155.69px;transform:scaleX(0.9130);transform-origin:100% 0;">(7.15)</span>
<span style="top:340.60px;font-size:9px;right:117.48px;transform:scaleX(0.8450);transform-origin:100% 0;">3,295</span>
<span style="top:340.60px;font-size:9px;right:76.29px;transform:scaleX(0.9130);transform-origin:100% 0;">(9.42)</span>
<span style="top:340.60px;font-size:9px;right:41.78px;transform:scaleX(0.8450);transform-origin:100% 0;">4</span>
<span style="top:351.60px;font-size:9px;left:8.81px;transform:scaleX(0.9371);transform-origin:0 0;">Tularemia</span>
<span style="top:351.60px;font-size:9px;right:601.64px;transform:scaleX(0.8450);transform-origin:100% 0;">129</span>
<span style="top:351.60px;font-size:9px;right:574.33px;transform:scaleX(0.8450);transform-origin:100% 0;">1</span>
<span style="top:351.60px;font-size:9px;right:539.19px;transform:scaleX(0.9130);transform-origin:100% 0;">(0.03)</span>
<span style="top:351.60px;font-size:9px;right:514.76px;transform:scaleX(0.8450);transform-origin:100% 0;">6</span>
<span style="top:351.60px;font-size:9px;right:473.59px;transform:scaleX(0.9130);transform-origin:100% 0;">(0.04)</span>
<span style="top:351.60px;font-size:9px;right:439.78px;transform:scaleX(0.8450);transform-origin:100% 0;">24</span>
<span style="top:351.60px;font-size:9px;right:401.19px;transform:scaleX(0.9130);transform-origin:100% 0;">(0.06)</span>
<span style="top:351.60px;font-size:9px;right:363.18px;transform:scaleX(0.8450);transform-origin:100% 0;">15</span>
<span style="top:351.60px;font-size:9px;right:318.99px;transform:scaleX(0.9130);transform-origin:100% 0;">(0.04)</span>
<span style="top:351.60px;font-size:9px;right:274.82px;transform:scaleX(0.8450);transform-origin:100% 0;">22</span>
<span style="top:351.60px;font-size:9px;right:234.19px;transform:scaleX(0.9130);transform-origin:100% 0;">(0.04)</span>
<span style="top:351.60px;font-size:9px;right:196.22px;transform:scaleX(0.8450);transform-origin:100% 0;">42</span>
<span style="top:351.60px;font-size:9px;right:155.69px;transform:scaleX(0.9130);transform-origin:100% 0;">(0.05)</span>
<span style="top:351.60px;font-size:9px;right:117.48px;transform:scaleX(0.8450);transform-origin:100% 0;">15</span>
<span style="top:351.60px;font-size:9px;right:76.29px;transform:scaleX(0.9130);transform-origin:100% 0;">(0.04)</span>
<span style="top:351.60px;font-size:9px;right:41.78px;transform:scaleX(0.8450);transform-origin:100% 0;">4</span>
<span style="top:363.60px;font-size:9px;left:8.81px;transform:scaleX(0.9463);transform-origin:0 0;">Typhoid fever</span>
<span style="top:363.60px;font-size:9px;right:601.67px;transform:scaleX(0.8450);transform-origin:100% 0;">368</span>
<span style="top:363.60px;font-size:9px;right:574.38px;transform:scaleX(0.8450);transform-origin:100% 0;">5</span>
<span style="top:363.60px;font-size:9px;right:539.19px;transform:scaleX(0.9130);transform-origin:100% 0;">(0.13)</span>
<span style="top:363.60px;font-size:9px;right:514.77px;transform:scaleX(0.8450);transform-origin:100% 0;">48</span>
<span style="top:363.60px;font-size:9px;right:473.59px;transform:scaleX(0.9130);transform-origin:100% 0;">(0.31)</span>
<span style="top:363.60px;font-size:9px;right:439.67px;transform:scaleX(0.8450);transform-origin:100% 0;">68</span>
<span style="top:363.60px;font-size:9px;right:401.19px;transform:scaleX(0.9130);transform-origin:100% 0;">(0.17)</span>
<span style="top:363.60px;font-size:9px;right:363.28px;transform:scaleX(0.8450);transform-origin:100% 0;">64</span>
<span style="top:363.60px;font-size:9px;right:318.99px;transform:scaleX(0.9130);transform-origin:100% 0;">(0.16)</span>
<span style="top:363.60px;font-size:9px;right:274.88px;transform:scaleX(0.8450);transform-origin:100% 0;">105</span>
<span style="top:363.60px;font-size:9px;right:234.19px;transform:scaleX(0.9130);transform-origin:100% 0;">(0.17)</span>
<span style="top:363.60px;font-size:9px;right:196.26px;transform:scaleX(0.8450);transform-origin:100% 0;">63</span>
<span style="top:363.60px;font-size:9px;right:155.69px;transform:scaleX(0.9130);transform-origin:100% 0;">(0.07)</span>
<span style="top:363.60px;font-size:9px;right:117.50px;transform:scaleX(0.8450);transform-origin:100% 0;">10</span>
<span style="top:363.60px;font-size:9px;right:76.29px;transform:scaleX(0.9130);transform-origin:100% 0;">(0.03)</span>
<span style="top:363.60px;font-size:9px;right:41.68px;transform:scaleX(0.8450);transform-origin:100% 0;">5</span>
<div class="ln" style="left:8px;top:374px;width:729px;height:1px"></div>
<span style="top:379.60px;left:20.78px;font-size:10px;letter-spacing:0.1207px;-webkit-text-stroke:0.2px #000">No cases of paralytic poliomyelitis, western equine encephalitis,  or yellow fever were reported in 2001.</span>
<span style="top:379.40px;font-size:9.6px;left:14.03px;transform:scaleX(1.0796);transform-origin:0 0;">*</span>
<span style="top:390.60px;left:21.38px;font-size:10px;letter-spacing:0.0665px;-webkit-text-stroke:0.2px #000">Total number of acquired immunodeficiency syndrome (AIDS) cases reported to the Division of HIV/AIDS Prevention—Surveillance and Epidemiology,  National</span>
<span style="top:391.15px;font-size:6px;left:15.38px;transform:scaleX(0.7899);transform-origin:0 0;">†</span>
<span style="top:401.60px;left:21.09px;font-size:10px;letter-spacing:-0.1655px;-webkit-text-stroke:0.2px #000">Center for HIV, STD, and TB Prevention (NCHSTP), through December 31, 2001.</span>
<span style="top:413.60px;left:21.09px;font-size:10px;letter-spacing:0.0724px;-webkit-text-stroke:0.2px #000">Chlamydia refers to genital infections caused by <i>C. trachomatis</i>.</span>
<span style="top:414.74px;font-size:5.5px;left:15.80px;transform:scaleX(0.6552);transform-origin:0 0;">§</span>
<span style="top:424.60px;left:21.58px;font-size:10px;letter-spacing:0.0559px;-webkit-text-stroke:0.2px #000">Age-related data are collected on aggregate forms different from those used for the number of reported cases.  Thus, total cases reported here will differ slightly</span>
<span class="b" style="top:425.83px;font-size:6px;left:15.44px;transform:scaleX(0.7514);transform-origin:0 0;">¶</span>
<span style="top:435.60px;left:21.46px;font-size:10px;letter-spacing:-0.0900px;-webkit-text-stroke:0.2px #000">from other tables.  Cases among persons aged &lt;15 years are not shown because some might not be caused by sexual transmission; these cases are included in the</span>
<span style="top:446.60px;left:21.45px;font-size:10px;letter-spacing:-0.0059px;-webkit-text-stroke:0.2px #000">totals.  Totals reported to the Division of Sexually Transmitted Diseases Prevention, NCHSTP, as of May 3, 2002.</span>
<span style="top:457.60px;left:20.78px;font-size:10px;letter-spacing:0.1083px;-webkit-text-stroke:0.2px #000">Notifiable in &lt;40 states.</span>
<span style="top:457.40px;font-size:9.6px;left:9.01px;transform:scaleX(1.2288);transform-origin:0 0;">**</span>
<span style="top:468.60px;left:21.38px;font-size:10px;letter-spacing:-0.0066px;-webkit-text-stroke:0.2px #000">Totals reported to the Division of Tuberculosis Elimination, NCHSTP, as of March 29, 2002.</span>
<span style="top:469.35px;font-size:6px;left:12.06px;transform:scaleX(0.8521);transform-origin:0 0;">††</span>
</body></html>
